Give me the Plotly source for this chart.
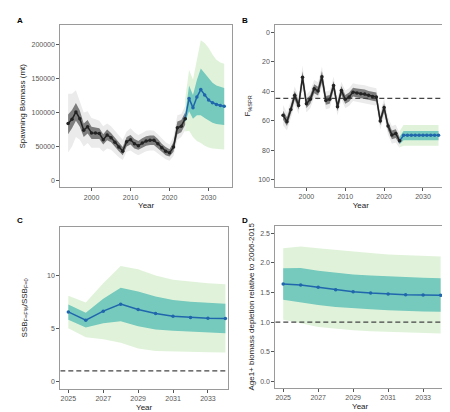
import plotly.graph_objects as go
from plotly.subplots import make_subplots

# ---- data ----
hist_years = list(range(1994, 2025))
proj_years = list(range(2025, 2035))
band_years = [2024] + proj_years

# A: spawning biomass (mt)
ssb = [84000, 90000, 101000, 91000, 74000, 79000, 70000, 70000, 69000, 60000,
       67000, 63000, 56000, 49000, 43000, 57000, 60000, 54000, 51000, 55000,
       58000, 59000, 59000, 54000, 48000, 43000, 40500, 49000, 77500, 80000, 91000]
ssb_hi95 = [128000, 128000, 133000, 118000, 100000, 102000, 92000, 90000, 88000, 80000,
            84000, 80000, 73000, 66000, 60000, 72000, 77000, 71000, 67000, 70000,
            73000, 74000, 73000, 68000, 62000, 56000, 53000, 64000, 96000, 98000, 110000]
ssb_lo95 = [41000, 50000, 64000, 60000, 50000, 55000, 48000, 48000, 48000, 42000,
            47000, 45000, 40000, 34000, 30000, 42000, 44000, 40000, 37000, 40000,
            43000, 44000, 44000, 40000, 35000, 31000, 29000, 36000, 60000, 64000, 74000]
ssb_hi50 = [97000, 104000, 114000, 103000, 84000, 89000, 79000, 78000, 77000, 68000,
            75000, 70000, 63000, 55000, 49000, 64000, 67000, 61000, 58000, 62000,
            65000, 66000, 66000, 61000, 54000, 49000, 46000, 56000, 87000, 89000, 100000]
ssb_lo50 = [68000, 77000, 88000, 79000, 64000, 69000, 61000, 61000, 61000, 53000,
            59000, 56000, 49000, 43000, 37000, 50000, 53000, 47000, 45000, 48000,
            51000, 52000, 52000, 47000, 42000, 37000, 35000, 42000, 68000, 71000, 82000]
ssb_proj = [121000, 107000, 123000, 134000, 126000, 118500, 114500, 112000, 110500, 109500]
ssb_proj_hi95 = [120000, 163000, 149000, 181000, 207000, 203000, 196000, 186000, 178000, 174000, 172000]
ssb_proj_lo95 = [72000, 73000, 64000, 58000, 55000, 51000, 48500, 47000, 46000, 45500, 45300]
ssb_proj_hi50 = [97000, 140000, 126000, 148000, 165000, 158000, 150000, 144000, 140000, 138000, 136500]
ssb_proj_lo50 = [86000, 102000, 91000, 96000, 96000, 92000, 88000, 85000, 83000, 82000, 81500]

# B: F%SPR
fspr = [56.4, 60.7, 52.4, 42.9, 49.7, 30.6, 48.5, 45.6, 38.4, 40.0,
        30.3, 46.3, 45.6, 36.2, 50.6, 39.6, 45.6, 44.0, 40.7, 41.3,
        41.8, 42.0, 42.9, 43.6, 44.0, 60.2, 51.2, 63.6, 69.7, 68.8, 73.7]
fspr_hw50 = [3, 3, 3, 3, 3, 4, 3, 3, 3, 3, 4, 3, 3, 3, 3, 3,
             3, 3, 3, 3, 3, 3, 3, 3, 3, 3, 3, 3, 3, 3, 2.5]
fspr_hw95 = [7, 6, 6, 6, 6, 8, 6, 6, 6, 6, 7, 6, 6, 6, 6, 6,
             6, 6, 6, 6, 6, 6, 6, 6, 6, 6, 6, 6, 6, 6, 5]
fspr_proj = [70, 70, 70, 70, 70, 70, 70, 70, 70, 70]
fspr_proj_hi95 = [67, 63, 63, 63, 63, 63, 63, 63, 63, 63, 63]
fspr_proj_lo95 = [78, 77, 77, 77, 77, 77, 77, 77, 77, 77, 77]
fspr_proj_hi50 = [71, 67, 67, 67, 67, 67, 67, 67, 67, 67, 67]
fspr_proj_lo50 = [76, 73.3, 73.3, 73.3, 73.3, 73.3, 73.3, 73.3, 73.3, 73.3, 73.3]
fspr_target = 45

# C: SSB ratio
ratio = [6.57, 5.79, 6.64, 7.30, 6.79, 6.42, 6.16, 6.04, 5.97, 5.94]
ratio_hi50 = [7.26, 6.48, 7.80, 8.84, 8.50, 8.02, 7.70, 7.52, 7.42, 7.33]
ratio_lo50 = [5.82, 5.09, 5.50, 5.69, 5.22, 4.90, 4.78, 4.69, 4.62, 4.56]
ratio_hi95 = [8.08, 7.45, 9.28, 10.9, 10.6, 10.0, 9.59, 9.40, 9.28, 9.18]
ratio_lo95 = [5.03, 4.18, 4.00, 3.65, 3.11, 2.89, 2.83, 2.80, 2.77, 2.74]
ratio_ref = 1

# D: age1+ biomass depletion relative to 2006-2015
depl = [1.644, 1.627, 1.588, 1.548, 1.515, 1.492, 1.475, 1.464, 1.458, 1.453]
depl_hi50 = [1.909, 1.914, 1.870, 1.836, 1.807, 1.790, 1.774, 1.762, 1.751, 1.740]
depl_lo50 = [1.380, 1.334, 1.290, 1.256, 1.233, 1.216, 1.200, 1.188, 1.182, 1.177]
depl_hi95 = [2.25, 2.28, 2.25, 2.22, 2.19, 2.17, 2.145, 2.134, 2.12, 2.11]
depl_lo95 = [1.04, 0.98, 0.918, 0.884, 0.861, 0.845, 0.833, 0.822, 0.816, 0.81]
depl_ref = 1

# ---- styling ----
GRAY95 = "#ebebeb"
GRAY50 = "#7d7d7d"
GREEN95 = "#e0f3da"
TEAL50 = "#75c9bd"
BLUE = "#1f66ad"
BLACK = "#222222"
FONT = "Liberation Sans"


def band(fig, x, lo, hi, color, row, col):
    fig.add_trace(go.Scatter(x=list(x) + list(x)[::-1], y=list(hi) + list(lo)[::-1],
                             fill="toself", fillcolor=color, line=dict(width=0),
                             mode="lines", hoverinfo="skip", showlegend=False),
                  row=row, col=col)


def series(fig, x, y, color, row, col):
    fig.add_trace(go.Scatter(x=x, y=y, mode="lines+markers",
                             line=dict(color=color, width=1.5),
                             marker=dict(color=color, size=3.5),
                             showlegend=False),
                  row=row, col=col)


def hline(fig, x0, x1, y, row, col):
    fig.add_trace(go.Scatter(x=[x0, x1], y=[y, y], mode="lines",
                             line=dict(color="#444444", width=1.2, dash="5px,3px"),
                             hoverinfo="skip", showlegend=False),
                  row=row, col=col)


fig = make_subplots(rows=2, cols=2)

# A
band(fig, band_years, ssb_proj_lo95, ssb_proj_hi95, GREEN95, 1, 1)
band(fig, band_years, ssb_proj_lo50, ssb_proj_hi50, TEAL50, 1, 1)
band(fig, hist_years, ssb_lo95, ssb_hi95, GRAY95, 1, 1)
band(fig, hist_years, ssb_lo50, ssb_hi50, GRAY50, 1, 1)
series(fig, [2024] + proj_years, [ssb[-1]] + ssb_proj, BLUE, 1, 1)
series(fig, hist_years, ssb, BLACK, 1, 1)

# B
band(fig, band_years, fspr_proj_lo95, fspr_proj_hi95, GREEN95, 1, 2)
band(fig, band_years, fspr_proj_lo50, fspr_proj_hi50, TEAL50, 1, 2)
band(fig, hist_years, [v - h for v, h in zip(fspr, fspr_hw95)],
     [v + h for v, h in zip(fspr, fspr_hw95)], GRAY95, 1, 2)
band(fig, hist_years, [v - h for v, h in zip(fspr, fspr_hw50)],
     [v + h for v, h in zip(fspr, fspr_hw50)], GRAY50, 1, 2)
hline(fig, 1992, 2036, fspr_target, 1, 2)
series(fig, [2024] + proj_years, [fspr[-1]] + fspr_proj, BLUE, 1, 2)
series(fig, hist_years, fspr, BLACK, 1, 2)

# C
band(fig, proj_years, ratio_lo95, ratio_hi95, GREEN95, 2, 1)
band(fig, proj_years, ratio_lo50, ratio_hi50, TEAL50, 2, 1)
hline(fig, 2024.54, 2034.15, ratio_ref, 2, 1)
series(fig, proj_years, ratio, BLUE, 2, 1)

# D
band(fig, proj_years, depl_lo95, depl_hi95, GREEN95, 2, 2)
band(fig, proj_years, depl_lo50, depl_hi50, TEAL50, 2, 2)
hline(fig, 2024.55, 2034.25, depl_ref, 2, 2)
series(fig, proj_years, depl, BLUE, 2, 2)

W, H = 450, 412


def xdom(l, r):
    return [l / W, r / W]


def ydom(t, b):
    return [1 - b / H, 1 - t / H]


axis_style = dict(showgrid=False, zeroline=False, showline=True, mirror=True,
                  linecolor="#9a9a9a", linewidth=1, ticks="outside", ticklen=3,
                  tickcolor="#555555", tickfont=dict(size=7, color="#555555", family=FONT))
title_font = dict(size=8, color="#222222", family=FONT)

fig.update_layout(
    xaxis=dict(domain=xdom(52.3, 224), range=[1992, 2036], tickvals=[2000, 2010, 2020, 2030],
               title=dict(text="Year", font=title_font, standoff=2), **axis_style),
    yaxis=dict(domain=ydom(17.3, 179.3), range=[-10400, 229000],
               tickvals=[0, 50000, 100000, 150000, 200000], tickformat="d",
               title=dict(text="Spawning Biomass (mt)", font=title_font, standoff=4), **axis_style),
    xaxis2=dict(domain=xdom(267.3, 438.3), range=[1992, 2036], tickvals=[2000, 2010, 2020, 2030],
                title=dict(text="Year", font=title_font, standoff=2), **axis_style),
    yaxis2=dict(domain=ydom(16.7, 179), range=[105, -5], tickvals=[0, 20, 40, 60, 80, 100],
                title=dict(text="F<sub>%SPR</sub>", font=title_font, standoff=6), **axis_style),
    xaxis3=dict(domain=xdom(52.3, 220), range=[2024.54, 2034.15],
                tickvals=[2025, 2027, 2029, 2031, 2033],
                title=dict(text="Year", font=title_font, standoff=2), **axis_style),
    yaxis3=dict(domain=ydom(218.7, 381), range=[-0.7, 14.6], tickvals=[0, 5, 10],
                title=dict(text="SSB<sub>F=F%</sub>/SSB<sub>F=0</sub>", font=title_font, standoff=18),
                **axis_style),
    xaxis4=dict(domain=xdom(267.3, 437), range=[2024.55, 2034.25],
                tickvals=[2025, 2027, 2029, 2031, 2033],
                title=dict(text="Year", font=title_font, standoff=2), **axis_style),
    yaxis4=dict(domain=ydom(217.7, 380), range=[-0.113, 2.63], tickvals=[0, 0.5, 1, 1.5, 2, 2.5],
                tickformat=".1f",
                title=dict(text="Age1+ biomass depletion relative to 2006-2015", font=title_font, standoff=4),
                **axis_style),
    width=W, height=H,
    margin=dict(l=0, r=0, t=0, b=0),
    paper_bgcolor="white", plot_bgcolor="white",
    font=dict(family=FONT),
)

for label, x, y in [("A", 12, 13), ("B", 237, 13), ("C", 12, 212), ("D", 237, 212)]:
    fig.add_annotation(text="<b>%s</b>" % label, x=x / W, y=1 - y / H, xref="paper", yref="paper",
                       showarrow=False, xanchor="center", yanchor="middle",
                       font=dict(size=8, color="black", family=FONT))

fig.write_html("out.html")
